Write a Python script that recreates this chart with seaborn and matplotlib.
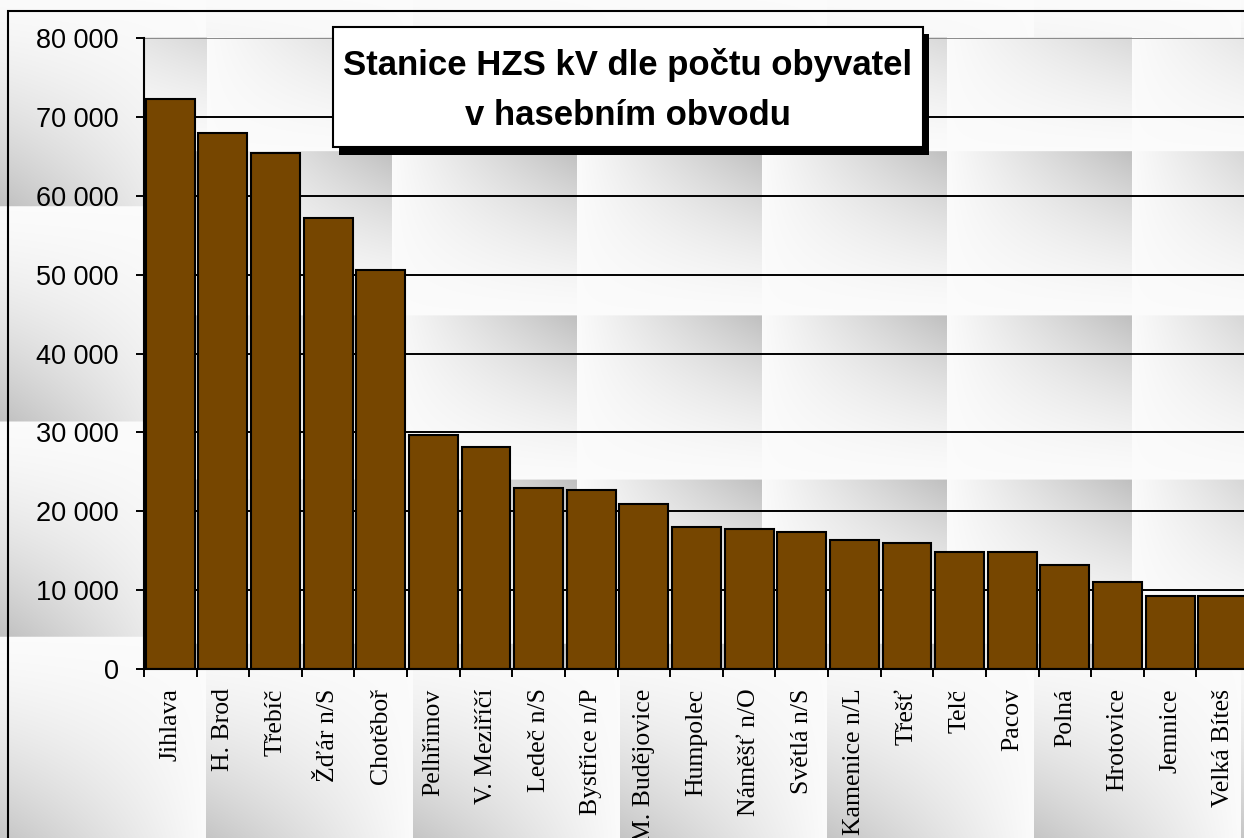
import numpy as np
import matplotlib
matplotlib.use("Agg")
import matplotlib.pyplot as plt
from matplotlib.patches import Rectangle
import seaborn as sns

# data (population in fire district)
stations = [
    "Jihlava", "H. Brod", "Třebíč", "Žďár n/S", "Chotěboř", "Pelhřimov",
    "V. Meziříčí", "Ledeč n/S", "Bystřice n/P", "M. Budějovice", "Humpolec",
    "Náměšť n/O", "Světlá n/S", "Kamenice n/L", "Třešť", "Telč", "Pacov",
    "Polná", "Hrotovice", "Jemnice", "Velká Bíteš",
]
population = [
    72300, 68000, 65400, 57200, 50600, 29700,
    28200, 23000, 22700, 20900, 18000,
    17700, 17400, 16300, 16000, 14800, 14800,
    13200, 11000, 9200, 9200,
]
y_ticks = [0, 10000, 20000, 30000, 40000, 50000, 60000, 70000, 80000]
title_lines = ["Stanice HZS kV dle počtu obyvatel", "v hasebním obvodu"]

BAR_COLOR = "#764600"
W, H = 1244, 838
AX_L, AX_R, AX_T, AX_B = 144, 1249, 38, 669


def tile_shade(u, v):
    return u * (1 - v) ** 1.5


def background_texture():
    # Excel-like tiled grey gradient, figure area + plot area
    yy, xx = np.mgrid[0:H, 0:W].astype(float)
    u = ((xx + 1) % 207) / 207
    v = ((yy + 8) % 215) / 215
    g = tile_shade(1 - u, 1 - v)
    inside = (xx >= AX_L) & (yy >= AX_T) & (yy <= AX_B)
    u2 = ((xx - 22) % 185) / 185
    v2 = ((yy + 12) % 164) / 164
    g = np.where(inside, tile_shade(u2, v2), g)
    shade = 0.985 - 0.235 * g
    return np.dstack([shade] * 3)


sns.set_style("white")
plt.rcParams.update({
    "text.color": "black",
    "xtick.color": "black",
    "ytick.color": "black",
    "xtick.labelcolor": "black",
    "ytick.labelcolor": "black",
})

fig = plt.figure(figsize=(W / 100, H / 100), dpi=100)

bg = fig.add_axes([0, 0, 1, 1])
bg.imshow(background_texture(), aspect="auto", interpolation="bilinear")
bg.axis("off")

ax = fig.add_axes([AX_L / W, 1 - AX_B / H, (AX_R - AX_L) / W, (AX_B - AX_T) / H])
ax.set_facecolor("none")

sns.barplot(x=stations, y=population, color=BAR_COLOR, saturation=1,
            edgecolor="black", linewidth=1.5, width=0.93, ax=ax)

ax.set_xlim(-0.5, len(stations) - 0.5)
ax.set_ylim(y_ticks[0], y_ticks[-1])
ax.set_axisbelow(True)

ax.set_yticks(y_ticks)
ax.set_yticklabels([f"{t:,}".replace(",", " ") for t in y_ticks],
                   fontfamily="Liberation Sans", fontsize=19.5, color="black")
ax.yaxis.grid(True, color="black", linewidth=1.4)
ax.get_ygridlines()[-1].set_color("#8a8a8a")
ax.tick_params(axis="y", direction="out", length=6, width=1.4, color="black",
               pad=12, left=True)

ax.set_xticks(range(len(stations)))
ax.set_xticklabels(stations, rotation=90, fontfamily="Liberation Serif",
                   fontsize=18.5, ha="center", va="top", color="black")
ax.set_xticks(np.arange(-0.5, len(stations), 1.0), minor=True)
ax.tick_params(axis="x", which="major", length=0, pad=14)
ax.tick_params(axis="x", which="minor", direction="out", length=6, width=1.4,
               color="black", bottom=True)
ax.set_xlabel("")
ax.set_ylabel("")

for side in ["top", "right"]:
    ax.spines[side].set_visible(False)
for side in ["left", "bottom"]:
    ax.spines[side].set_color("black")
    ax.spines[side].set_linewidth(1.5)

# outer chart border
fig.add_artist(Rectangle((8 / W, -0.05), 1.1, (H - 11) / H + 0.05,
                         transform=fig.transFigure, fill=False,
                         edgecolor="black", linewidth=1.5))

# title box with shadow
fig.add_artist(Rectangle((339 / W, 1 - 155 / H), 590 / W, 121 / H,
                         transform=fig.transFigure, facecolor="black",
                         edgecolor="none", zorder=5))
fig.add_artist(Rectangle((333 / W, 1 - 147 / H), 590 / W, 120 / H,
                         transform=fig.transFigure, facecolor="white",
                         edgecolor="black", linewidth=1.5, zorder=6))
for line, base in zip(title_lines, [75, 125]):
    fig.text(628 / W, 1 - base / H, line, ha="center", va="baseline",
             fontfamily="Liberation Sans", fontweight="bold", fontsize=25,
             color="black", zorder=7)

fig.savefig("out.png", dpi=100)
